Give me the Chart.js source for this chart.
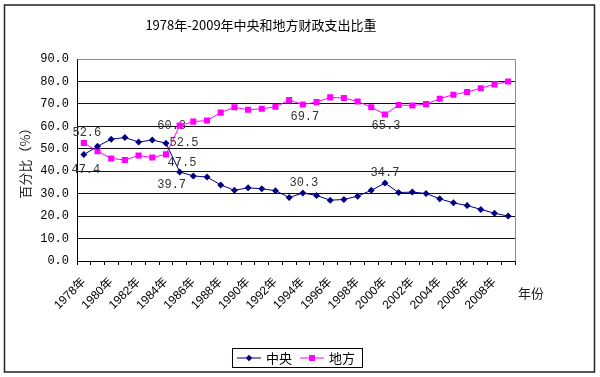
<!DOCTYPE html>
<html>
<head>
<meta charset="utf-8">
<style>
  html, body { margin: 0; padding: 0; background: #fff; }
  #wrap { position: relative; width: 600px; height: 377px; }
</style>
<script src="https://cdn.jsdelivr.net/npm/chart.js@4"></script>
</head>
<body>
<div id="wrap"><canvas id="c" width="600" height="377"></canvas></div>
<script>
// ---- data ----
const years = ['1978','1979','1980','1981','1982','1983','1984','1985','1986','1987','1988','1989','1990','1991','1992','1993','1994','1995','1996','1997','1998','1999','2000','2001','2002','2003','2004','2005','2006','2007','2008','2009'];
const central = [47.4,51.1,54.3,55.0,53.0,53.9,52.5,39.7,37.9,37.4,33.9,31.5,32.6,32.2,31.3,28.3,30.3,29.2,27.1,27.4,28.9,31.5,34.7,30.5,30.7,30.1,27.7,25.9,24.7,23.0,21.3,20.0];
const local   = [52.6,48.9,45.7,45.0,47.0,46.1,47.5,60.3,62.1,62.6,66.1,68.5,67.4,67.8,68.7,71.7,69.7,70.8,72.9,72.6,71.1,68.5,65.3,69.5,69.3,69.9,72.3,74.1,75.3,77.0,78.7,80.0];
const seriesNames = ['中央', '地方'];
const yTickValues = [0,10,20,30,40,50,60,70,80,90];
const titleText = '1978年-2009年中央和地方财政支出比重';
const yTitle = '百分比（%）';
const xTitle = '年份';
// annotated points: [series index, year]
const labelledPoints = [[1,'1978'],[0,'1978'],[0,'1984'],[1,'1984'],[1,'1985'],[0,'1985'],[1,'1994'],[0,'1994'],[1,'2000'],[0,'2000']];

const categories = years.map(y => y + '年');

// label offsets (style only)
const labelOffsets = {
  '1-1978': [3, -10], '0-1978': [2, 15],
  '0-1984': [18, 0], '1-1984': [16, 8],
  '1-1985': [-8, 0], '0-1985': [-8, 13],
  '1-1994': [2, 12], '0-1994': [1, -10],
  '1-2000': [1, 11], '0-2000': [0, -10]
};

const NAVY = '#000080', MAG = '#ff00ff';

const deco = {
  id: 'deco',
  beforeDraw(chart) {
    const ctx = chart.ctx;
    ctx.save();
    ctx.fillStyle = '#fff';
    ctx.fillRect(0, 0, chart.width, chart.height);
    ctx.restore();
  },
  beforeDatasetsDraw(chart) {
    const ctx = chart.ctx;
    ctx.save();
    ctx.font = '12px "Liberation Mono", "DejaVu Sans Mono", monospace';
    ctx.fillStyle = '#333';
    ctx.textAlign = 'center';
    ctx.textBaseline = 'middle';
    labelledPoints.forEach(([s, yr]) => {
      const i = years.indexOf(yr);
      const el = chart.getDatasetMeta(s).data[i];
      const v = chart.data.datasets[s].data[i];
      const off = labelOffsets[s + '-' + yr] || [0, 0];
      ctx.fillText(v.toFixed(1), el.x + off[0], el.y + off[1]);
    });
    ctx.restore();
  },
  afterDraw(chart) {
    const ctx = chart.ctx;
    const a = chart.chartArea;
    ctx.save();
    // plot border (gray) top & right
    ctx.strokeStyle = '#8c8c8c';
    ctx.lineWidth = 1;
    ctx.beginPath();
    ctx.moveTo(Math.round(a.left) + 0.5, Math.round(a.top) + 0.5);
    ctx.lineTo(Math.round(a.right) + 0.5, Math.round(a.top) + 0.5);
    ctx.lineTo(Math.round(a.right) + 0.5, Math.round(a.bottom) + 0.5);
    ctx.stroke();
    // title
    ctx.fillStyle = '#000';
    ctx.font = '13px "Noto Sans CJK SC", sans-serif';
    ctx.textAlign = 'center';
    ctx.textBaseline = 'middle';
    ctx.fillText(titleText, 261, 25);
    // x title
    ctx.font = '13px "Noto Sans CJK SC", sans-serif';
    ctx.fillStyle = '#222';
    ctx.fillText(xTitle, 531, 293);
    // legend
    const lx = 232, ly = 348, lw = 130, lh = 19;
    ctx.strokeStyle = '#000';
    ctx.lineWidth = 1;
    ctx.strokeRect(lx + 0.5, ly + 0.5, lw, lh);
    const cy = ly + lh / 2 + 0.5;
    const items = [
      { x: 237, color: NAVY, style: 'rectRot', r: 3 },
      { x: 300, color: MAG, style: 'rect', r: 4 }
    ];
    items.forEach((it, k) => {
      ctx.strokeStyle = it.color;
      ctx.lineWidth = 1;
      ctx.beginPath();
      ctx.moveTo(it.x, cy);
      ctx.lineTo(it.x + 24, cy);
      ctx.stroke();
      ctx.fillStyle = it.color;
      Chart.helpers.drawPoint(ctx, { pointStyle: it.style, radius: it.r, rotation: 0, borderWidth: 0 }, it.x + 12, cy);
      ctx.fill();
      ctx.fillStyle = '#000';
      ctx.font = '13px "Noto Sans CJK SC", sans-serif';
      ctx.textAlign = 'left';
      ctx.textBaseline = 'middle';
      ctx.fillText(chart.data.datasets[k].label, it.x + 29, cy);
    });
    // outer frame
    ctx.strokeStyle = '#222';
    ctx.lineWidth = 1.5;
    ctx.strokeRect(4.5, 5, 590, 367);
    ctx.restore();
  }
};

new Chart(document.getElementById('c'), {
  type: 'line',
  data: {
    labels: categories,
    datasets: [
      { label: seriesNames[0], data: central, borderColor: NAVY, backgroundColor: NAVY, borderWidth: 1,
        pointStyle: 'rectRot', pointRadius: 3.5, pointBorderWidth: 0, tension: 0 },
      { label: seriesNames[1], data: local, borderColor: MAG, backgroundColor: MAG, borderWidth: 1,
        pointStyle: 'rect', pointRadius: 4.3, pointBorderWidth: 0, tension: 0 }
    ]
  },
  options: {
    responsive: false,
    animation: false,
    events: [],
    layout: { padding: { left: 12, right: 85, top: 59, bottom: 10 } },
    plugins: { legend: { display: false }, title: { display: false }, tooltip: { enabled: false } },
    scales: {
      x: {
        offset: true,
        grid: { offset: true, drawOnChartArea: false, drawTicks: true, tickLength: 4, color: '#000', tickColor: '#000' },
        border: { color: '#000', width: 1 },
        ticks: {
          autoSkip: false, maxRotation: 45, minRotation: 45, padding: 10,
          color: '#000',
          font: { family: '"Liberation Sans", Arial, "Noto Sans CJK SC", sans-serif', size: 12 },
          callback: function (v, i) { return i % 2 === 0 ? this.getLabelForValue(v) : ''; }
        },
        afterFit(scale) { scale.height = 377 - 10 - 261; }
      },
      y: {
        min: 0, max: 90,
        afterBuildTicks(scale) { scale.ticks = yTickValues.map(v => ({ value: v })); },
        grid: {
          color: ctx => (ctx.tick && ctx.tick.value === 90) ? '#8c8c8c' : '#111',
          lineWidth: 1, drawTicks: false
        },
        border: { color: '#000', width: 1 },
        ticks: {
          padding: 8, color: '#000',
          font: { family: '"Liberation Mono", "DejaVu Sans Mono", monospace', size: 12 },
          callback: v => Number(v).toFixed(1)
        },
        title: { display: true, text: yTitle, color: '#222', font: { family: '"Noto Sans CJK SC", sans-serif', size: 13 }, padding: { top: 5, bottom: 2 } },
        afterFit(scale) { scale.width = 77 - 12; }
      }
    }
  },
  plugins: [deco]
});
</script>
</body>
</html>
